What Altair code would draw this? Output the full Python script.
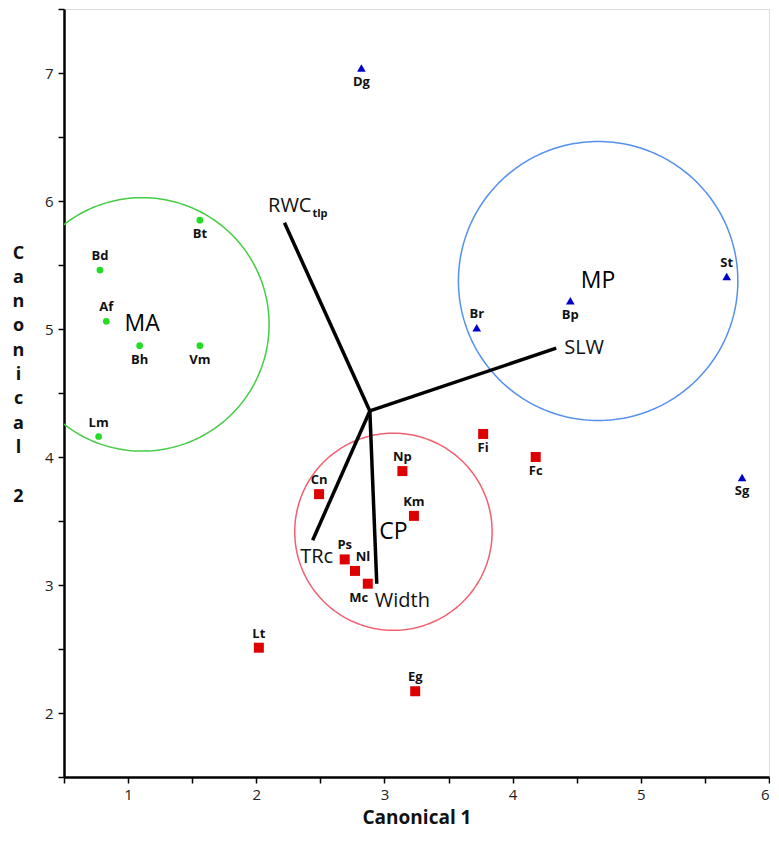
import altair as alt
import numpy as np
import pandas as pd

# ---- data ----
labels = ["Bt", "Bd", "Af", "Bh", "Vm", "Lm",
          "Dg", "Br", "Bp", "St", "Sg",
          "Cn", "Ps", "Nl", "Mc", "Lt", "Np", "Km", "Fi", "Fc", "Eg"]
groups = ["MA"] * 6 + ["MP"] * 5 + ["CP"] * 10
can1 = [1.56, 0.78, 0.83, 1.09, 1.56, 0.77,
        2.82, 3.72, 4.45, 5.67, 5.79,
        2.49, 2.69, 2.77, 2.87, 2.02, 3.14, 3.23, 3.77, 4.18, 3.24]
can2 = [5.85, 5.46, 5.06, 4.87, 4.87, 4.16,
        7.04, 5.01, 5.22, 5.41, 3.84,
        3.71, 3.20, 3.11, 3.01, 2.51, 3.89, 3.54, 4.18, 4.00, 2.17]
label_place = ["below", "above", "above", "below", "below", "above",
               "below", "above", "below", "above", "below",
               "above", "above", "ne", "sw", "above", "above", "above", "below", "below", "above"]

group_names = ["MA", "MP", "CP"]
group_cx = [1.11, 4.667, 3.07]
group_cy = [5.036, 5.375, 3.416]
group_r = [0.99, 1.09, 0.77]

ray_names = ["RWC", "SLW", "TRc", "Width"]
ray_origin = (2.886, 4.36)
ray_x = [2.22, 4.34, 2.44, 2.94]
ray_y = [5.83, 4.85, 3.35, 3.01]

x_ticks = [0.5, 1, 1.5, 2, 2.5, 3, 3.5, 4, 4.5, 5, 5.5, 6]
y_ticks = [1.5, 2, 2.5, 3, 3.5, 4, 4.5, 5, 5.5, 6, 6.5, 7, 7.5]

# ---- tables ----
pts = pd.DataFrame({"label": labels, "group": groups, "c1": can1, "c2": can2, "place": label_place})

theta = np.linspace(0, 2 * np.pi, 241)
circ_rows = []
for g, cx, cy, r in zip(group_names, group_cx, group_cy, group_r):
    for i, t in enumerate(theta):
        circ_rows.append({"group": g, "i": i, "c1": cx + r * np.cos(t), "c2": cy + r * np.sin(t)})
circ = pd.DataFrame(circ_rows)
gl = pd.DataFrame({"group": group_names, "c1": group_cx, "c2": group_cy})

rays = pd.DataFrame({"name": ray_names, "x0": [ray_origin[0]] * 4, "y0": [ray_origin[1]] * 4,
                     "c1": ray_x, "c2": ray_y})

FONT = "Open Sans"
xs = alt.Scale(domain=[0.5, 6], nice=False, zero=False)
ys = alt.Scale(domain=[1.5, 7.5], nice=False, zero=False)

LBL = "datum.value % 1 == 0 ? format(datum.value, 'd') : ''"

X = alt.X("c1:Q", scale=xs, axis=alt.Axis(
    title="Canonical 1", values=x_ticks, labelExpr=LBL,
    grid=False, tickSize=6, tickColor="black", tickWidth=1.5,
    domainColor="black", domainWidth=2.5, labelFont=FONT, labelFontSize=15,
    labelColor="#222", labelPadding=4, titleFont=FONT, titleFontSize=19,
    titleFontWeight="bold", titleColor="#111", titlePadding=6))
Y = alt.Y("c2:Q", scale=ys, axis=alt.Axis(
    title=["C", "a", "n", "o", "n", "i", "c", "a", "l", "\u200b", "2"], values=y_ticks,
    labelExpr=LBL,
    grid=False, tickSize=6, tickColor="black", tickWidth=1.5,
    domainColor="black", domainWidth=2.5, labelFont=FONT, labelFontSize=15,
    labelColor="#222", labelPadding=5, titleFont=FONT, titleFontSize=18,
    titleFontWeight="bold", titleColor="#111", titleAngle=0, titleLineHeight=24.3,
    titleAlign="center", titleBaseline="middle", titleX=-46, titleY=244))

circle_colors = alt.Scale(domain=group_names, range=["#44cc44", "#5590ee", "#f06070"])
circles = alt.Chart(circ).mark_line(clip=True, strokeWidth=1.5).encode(
    x=X, y=Y, detail="group:N", order="i:Q",
    color=alt.Color("group:N", scale=circle_colors, legend=None))

ray_lines = alt.Chart(rays).mark_rule(color="black", strokeWidth=3.5).encode(
    x=alt.X("x0:Q", scale=xs), y=alt.Y("y0:Q", scale=ys), x2="c1:Q", y2="c2:Q")

def pt_layer(g, shape, color, size):
    return alt.Chart(pts).transform_filter(alt.datum.group == g).mark_point(
        shape=shape, filled=True, color=color, size=size, opacity=1).encode(x=X, y=Y)

points = (pt_layer("MA", "circle", "#22dd22", 45)
          + pt_layer("MP", "triangle-up", "#0000cc", 75)
          + pt_layer("CP", "square", "#dd0000", 100))

offsets = {"above": (0, -14), "below": (0, 14), "ne": (8, -14), "sw": (-9, 14)}
lab_layers = []
for p, (dx, dy) in offsets.items():
    lab_layers.append(alt.Chart(pts).transform_filter(alt.datum.place == p).mark_text(
        font=FONT, fontSize=13, fontWeight="bold", color="#111", dx=dx, dy=dy,
        align="center", baseline="middle").encode(x=X, y=Y, text="label:N"))

grp_text = alt.Chart(gl).mark_text(font=FONT, fontSize=23, color="#000",
                                    align="center", baseline="middle").encode(
    x=X, y=Y, text="group:N")

ray_label_style = {
    "RWC": dict(dx=27, dy=-17, align="right"),
    "SLW": dict(dx=8, dy=0, align="left"),
    "TRc": dict(dx=4, dy=17, align="center"),
    "Width": dict(dx=-2, dy=17, align="left"),
}
ray_text = []
for n, st in ray_label_style.items():
    ray_text.append(alt.Chart(rays).transform_filter(alt.datum.name == n).mark_text(
        font=FONT, fontSize=20, color="#111", baseline="middle", **st).encode(
        x=X, y=Y, text="name:N"))
ray_text.append(alt.Chart(rays).transform_filter(alt.datum.name == "RWC").mark_text(
    font=FONT, fontSize=11, fontWeight="bold", color="#111", baseline="middle",
    align="left", dx=28, dy=-9).encode(x=X, y=Y, text=alt.value("tlp")))

chart = alt.layer(circles, ray_lines, points, *lab_layers, grp_text, *ray_text).properties(
    width=705, height=768, padding={"left": 4, "top": 0, "right": 0, "bottom": 2}
).configure_view(stroke="#555", strokeWidth=1.5).configure(background="white")

chart.save("out.html", embed_options={"renderer": "svg", "actions": False})
